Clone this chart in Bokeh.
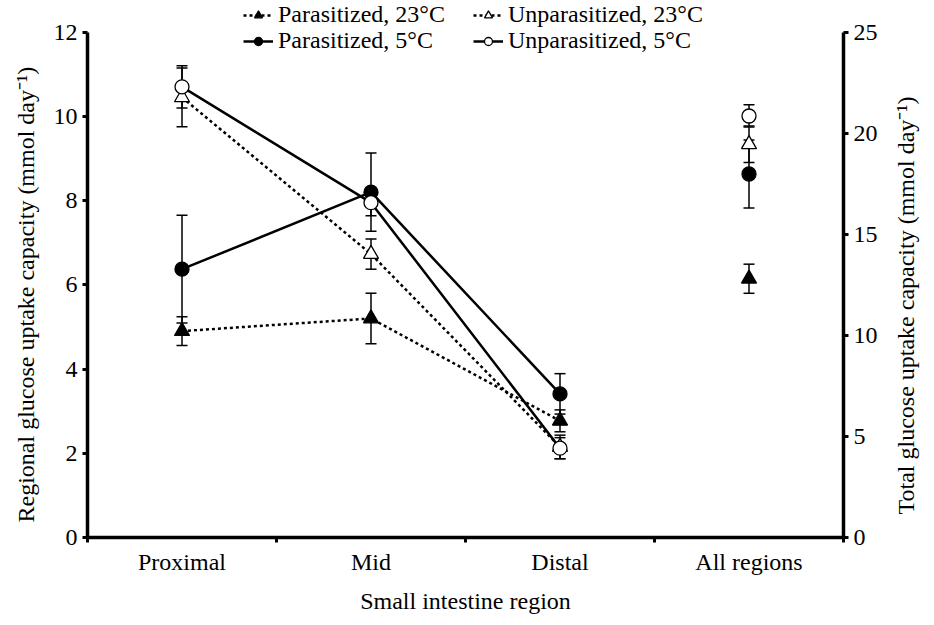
import numpy as np
from bokeh.plotting import figure
from bokeh.layouts import row
from bokeh.models import (Range1d, LinearAxis, FixedTicker, Whisker, TeeHead,
                          ColumnDataSource, Legend, LegendItem, Label)
from bokeh.embed import file_html
from bokeh.resources import INLINE

# ---------------- data ----------------
regions = ["Proximal", "Mid", "Distal", "All regions"]
region_x = [0.5, 1.5, 2.5]
total_x = [3.5]

par23 = [4.90, 5.20, 2.77]
par23_err = [0.34, 0.60, 0.26]
par23_total = [12.8]
par23_total_err = [0.72]

unpar23 = [10.45, 6.73, 2.15]
unpar23_err = [0.70, 0.36, 0.28]
unpar23_total = [19.45]
unpar23_total_err = [0.90]

par5 = [6.37, 8.20, 3.41]
par5_err = [1.28, 0.93, 0.48]
par5_total = [17.98]
par5_total_err = [1.68]

unpar5 = [10.70, 7.95, 2.12]
unpar5_err = [0.50, 0.31, 0.25]
unpar5_total = [20.85]
unpar5_total_err = [0.55]

left_ticks = [0, 2, 4, 6, 8, 10, 12]
right_ticks = [0, 5, 10, 15, 20, 25]
left_max = 12
right_max = 25

FONT = "Liberation Serif"
FS = "24px"
LEFT_LABEL = "Regional glucose uptake capacity (mmol day\u207b\u00b9)"
RIGHT_LABEL = "Total glucose uptake capacity (mmol day\u207b\u00b9)"

H = 617
SIDE_L = 44
SIDE_R = 46
BOTTOM = 80

# headroom above the axes so the legend can sit inside the frame
top_frac = 1.0625
p = figure(width=880 - SIDE_L, height=H, x_range=Range1d(0, 4),
           y_range=Range1d(0, left_max * top_frac),
           output_backend="svg", toolbar_location=None,
           min_border_left=87 - SIDE_L, min_border_right=34, min_border_top=0,
           min_border_bottom=BOTTOM)
p.extra_y_ranges = {"total": Range1d(0, right_max * top_frac)}
p.outline_line_color = None
p.grid.visible = False
p.background_fill_color = "white"


def style_axis(ax):
    ax.axis_line_width = 3.5
    ax.axis_line_color = "black"
    ax.major_tick_line_width = 3
    ax.major_tick_line_color = "black"
    ax.major_tick_out = 5
    ax.major_tick_in = 0
    ax.minor_tick_line_color = None
    ax.major_label_text_font = FONT
    ax.major_label_text_font_size = FS
    ax.major_label_text_color = "black"
    ax.axis_label_text_font = FONT
    ax.axis_label_text_font_size = FS
    ax.axis_label_text_font_style = "normal"
    ax.axis_label_text_color = "black"


# x axis
xa = p.xaxis[0]
style_axis(xa)
xa.ticker = FixedTicker(ticks=[0.5, 1.5, 2.5, 3.5], minor_ticks=[0, 1, 2, 3, 4])
xa.major_label_overrides = {0.5: regions[0], 1.5: regions[1], 2.5: regions[2], 3.5: regions[3]}
xa.major_tick_line_color = None
xa.minor_tick_line_color = "black"
xa.minor_tick_line_width = 3
xa.minor_tick_out = 5
xa.minor_tick_in = 0
xa.major_label_standoff = 6
xa.axis_label = "Small intestine region"
xa.axis_label_standoff = 10

# left axis
ya = p.yaxis[0]
style_axis(ya)
ya.ticker = FixedTicker(ticks=left_ticks)
ya.bounds = (0, left_max)
ya.major_label_standoff = 5

# right axis
ra = LinearAxis(y_range_name="total", ticker=FixedTicker(ticks=right_ticks))
style_axis(ra)
ra.bounds = (0, right_max)
ra.major_label_standoff = 5
p.add_layout(ra, "right")


def add_err(xs, ys, errs, range_name="default"):
    src = ColumnDataSource(dict(x=xs, upper=[y + e for y, e in zip(ys, errs)],
                                lower=[y - e for y, e in zip(ys, errs)]))
    w = Whisker(source=src, base="x", upper="upper", lower="lower", dimension="height",
                line_color="black", line_width=1.5, level="underlay",
                upper_head=TeeHead(size=11, line_width=1.5, line_color="black"),
                lower_head=TeeHead(size=11, line_width=1.5, line_color="black"))
    if range_name != "default":
        w.y_range_name = range_name
    p.add_layout(w)


series = [
    ("Parasitized, 23°C", par23, par23_err, par23_total, par23_total_err, "triangle", "black", "3 3"),
    ("Unparasitized, 23°C", unpar23, unpar23_err, unpar23_total, unpar23_total_err, "triangle", "white", "3 3"),
    ("Parasitized, 5°C", par5, par5_err, par5_total, par5_total_err, "circle", "black", "solid"),
    ("Unparasitized, 5°C", unpar5, unpar5_err, unpar5_total, unpar5_total_err, "circle", "white", "solid"),
]

items = []
for name, vals, errs, tot, tot_err, marker, fill, dash in series:
    add_err(region_x, vals, errs)
    add_err(total_x, tot, tot_err, "total")

line_rs = []
for name, vals, errs, tot, tot_err, marker, fill, dash in series:
    lr = p.line(region_x, vals, line_color="black", line_width=2.5, line_dash=dash)
    line_rs.append(lr)

for (name, vals, errs, tot, tot_err, marker, fill, dash), lr in zip(series, line_rs):
    size = 14 if marker == "circle" else 15
    sr = p.scatter(region_x, vals, marker=marker, size=size, fill_color=fill,
                   line_color="black", line_width=1.3)
    p.scatter(total_x, tot, marker=marker, size=size, fill_color=fill,
              line_color="black", line_width=1.3, y_range_name="total")
    items.append(LegendItem(label=name, renderers=[lr, sr]))


def make_legend(it, x, y):
    lg = Legend(items=[it], location=(x, y), orientation="vertical",
                padding=0, margin=0, spacing=0, label_standoff=5,
                glyph_width=30, glyph_height=20, label_height=20,
                border_line_color=None, background_fill_alpha=0,
                label_text_font=FONT, label_text_font_size=FS, label_text_color="black")
    p.add_layout(lg)


# one legend per entry so the two rows can sit as tightly as in the original
make_legend(items[0], 156, 509)
make_legend(items[1], 386, 509)
make_legend(items[2], 156, 483)
make_legend(items[3], 386, 483)


def side_panel(width, text, x, y_start):
    # the side panels' frames line up with the main frame (bottom at H - BOTTOM)
    f = figure(width=width, height=H, x_range=Range1d(0, 1), y_range=Range1d(0, 1),
               output_backend="svg", toolbar_location=None,
               min_border_left=0, min_border_right=0, min_border_top=0, min_border_bottom=0,
               x_axis_location=None, y_axis_location=None)
    f.outline_line_color = None
    f.grid.visible = False
    f.add_layout(Label(x=x, y=(H - BOTTOM) - y_start, x_units="screen", y_units="screen",
                       text=text, angle=np.pi / 2,
                       text_align="left", text_baseline="middle",
                       text_font=FONT, text_font_size=FS, text_color="black"))
    return f


# axis titles, reading bottom to top on both sides
left_panel = side_panel(SIDE_L, LEFT_LABEL, 25, 522)
right_panel = side_panel(SIDE_R, RIGHT_LABEL, 25, 514)

layout = row(left_panel, p, right_panel, spacing=0)
open("out.html", "w").write(file_html(layout, INLINE))
